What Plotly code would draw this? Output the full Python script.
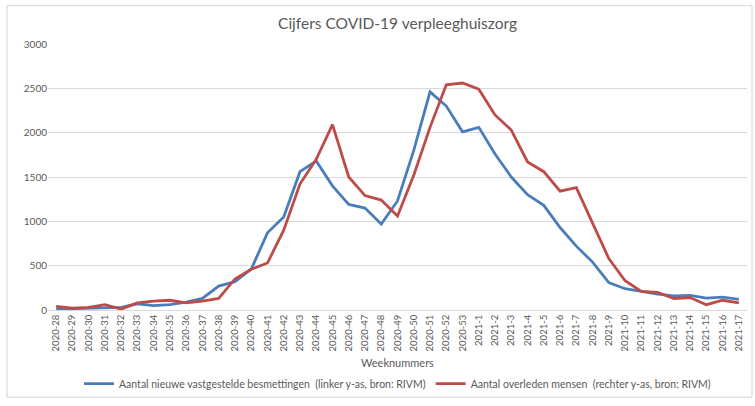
import plotly.graph_objects as go

weeks = [f"2020-{w}" for w in range(28, 54)] + [f"2021-{w}" for w in range(1, 18)]

besmettingen = [10, 15, 20, 30, 30, 70, 50, 60, 90, 130, 270, 320, 460, 870, 1050,
                1560, 1680, 1400, 1190, 1150, 970, 1230, 1800, 2460, 2300, 2010,
                2060, 1760, 1500, 1300, 1180, 930, 720, 540, 310, 240, 210, 180,
                160, 165, 135, 145, 120]

overleden = [40, 20, 30, 60, 10, 80, 100, 110, 80, 100, 130, 350, 460, 530, 900,
             1420, 1700, 2090, 1500, 1290, 1240, 1060, 1520, 2060, 2540, 2560,
             2490, 2200, 2030, 1670, 1560, 1340, 1380, 970, 580, 330, 210, 200,
             130, 140, 60, 110, 80]

y_ticks = [0, 500, 1000, 1500, 2000, 2500, 3000]

grey = '#595959'
font_family = 'Lato, Liberation Sans, sans-serif'

fig = go.Figure()

fig.add_trace(go.Scatter(
    x=weeks, y=besmettingen, mode='lines',
    name='Aantal nieuwe vastgestelde besmettingen  (linker y-as, bron: RIVM)',
    line=dict(color='#4a7ebb', width=2.8)
))

fig.add_trace(go.Scatter(
    x=weeks, y=overleden, mode='lines',
    name='Aantal overleden mensen  (rechter y-as, bron: RIVM)',
    line=dict(color='#be4b48', width=2.8)
))

# lichte rand rond de hele grafiek
fig.add_shape(type='rect', xref='paper', yref='paper',
              x0=-0.0587, x1=1.0072, y0=-0.328, y1=1.144,
              line=dict(color='#d4d4d4', width=1), layer='below')

fig.add_annotation(text='Weeknummers', xref='paper', yref='paper',
                   x=0.5, y=-0.196, yanchor='middle', showarrow=False,
                   font=dict(size=11, color=grey, family=font_family))

fig.update_layout(
    width=755, height=406,
    margin=dict(l=48, r=8, t=44, b=91),
    paper_bgcolor='white', plot_bgcolor='white',
    font=dict(family=font_family, color=grey),
    title=dict(text='Cijfers COVID-19 verpleeghuiszorg', xref='paper', x=0.5, xanchor='center',
               y=0.943, yanchor='middle',
               font=dict(size=15.5, color=grey, family=font_family)),
    xaxis=dict(type='category', range=[-0.5, len(weeks) - 0.5],
               tickangle=-90, tickfont=dict(size=9.5, color=grey),
               showgrid=False, showline=True, linecolor='#d9d9d9', linewidth=1,
               ticks='', automargin=False),
    yaxis=dict(range=[0, 3000], tickvals=y_ticks, tickfont=dict(size=10, color=grey),
               showgrid=True, gridcolor='#d9d9d9', gridwidth=1,
               zeroline=False, showline=False, ticks='', automargin=False),
    legend=dict(orientation='h', x=0.5, xanchor='center', y=-0.277, yanchor='middle',
                font=dict(size=10.5, color=grey), itemwidth=30,
                bgcolor='rgba(0,0,0,0)'),
    showlegend=True
)

# standaard body-marge van de browser weghalen zodat de figuur precies past
fig.write_html("out.html", config={'displayModeBar': False},
               post_script="document.body.style.margin='0';")
